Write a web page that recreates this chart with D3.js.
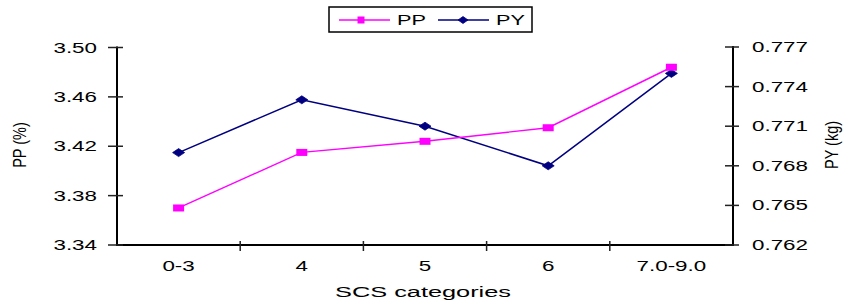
<!DOCTYPE html>
<html>
<head>
<meta charset="utf-8">
<script src="https://cdn.jsdelivr.net/npm/d3@7/dist/d3.min.js"></script>
<style>
  html, body { margin: 0; padding: 0; background: #fff; }
  svg { display: block; }
  text { font-family: "Liberation Sans", Arial, sans-serif; fill: #000; }
</style>
</head>
<body>
<svg id="chart" width="850" height="307"></svg>
<script>
// ---- data ----
const categories = ["0-3", "4", "5", "6", "7.0-9.0"];
const ppValues = [3.370, 3.415, 3.424, 3.435, 3.484];
const pyValues = [0.769, 0.773, 0.771, 0.768, 0.775];
const leftTicks = [3.34, 3.38, 3.42, 3.46, 3.50];
const rightTicks = [0.762, 0.765, 0.768, 0.771, 0.774, 0.777];
const seriesNames = ["PP", "PY"];
const xTitle = "SCS categories";
const leftTitle = "PP (%)";
const rightTitle = "PY (kg)";

// ---- layout ----
const svg = d3.select("#chart");
const L = 117, R = 733, T = 47.5, B = 245;
const SX = 1.6; // horizontal stretch of text in the reference
const pink = "#ff00ff", navy = "#000080";

const x = d3.scaleBand().domain(categories).range([L, R]);
const yL = d3.scaleLinear().domain([3.34, 3.50]).range([B, T]);
const yR = d3.scaleLinear().domain([0.762, 0.777]).range([B, 47]);

function stretchedText(g, px, py, str, anchor, size, sx) {
  return g.append("text")
    .attr("transform", `translate(${px},${py}) scale(${sx},1)`)
    .attr("text-anchor", anchor)
    .style("font-size", size + "px")
    .text(str);
}

// axes
const axisG = svg.append("g");
axisG.append("line").attr("x1", L).attr("x2", R).attr("y1", B).attr("y2", B)
  .attr("stroke", "#000").attr("stroke-width", 2);
axisG.append("line").attr("x1", L).attr("x2", L).attr("y1", T - 1).attr("y2", B + 1)
  .attr("stroke", "#000").attr("stroke-width", 2);
axisG.append("line").attr("x1", R).attr("x2", R).attr("y1", 46).attr("y2", B + 1)
  .attr("stroke", "#000").attr("stroke-width", 2);

// left ticks
leftTicks.forEach(v => {
  const yy = yL(v);
  axisG.append("line").attr("x1", L - 9).attr("x2", L + 6).attr("y1", yy).attr("y2", yy)
    .attr("stroke", "#222").attr("stroke-width", 1.5);
  stretchedText(axisG, 97, yy + 5, d3.format(".2f")(v), "end", 14, SX);
});
// right ticks
rightTicks.forEach(v => {
  const yy = yR(v);
  axisG.append("line").attr("x1", R - 8).attr("x2", R + 6).attr("y1", yy).attr("y2", yy)
    .attr("stroke", "#222").attr("stroke-width", 1.5);
  stretchedText(axisG, 752, yy + 5, d3.format(".3f")(v), "start", 14, SX);
});
// x ticks at band boundaries
categories.forEach((c, i) => {
  const xx = x(c);
  if (i > 0) {
    axisG.append("line").attr("x1", xx).attr("x2", xx).attr("y1", B - 4).attr("y2", B + 6)
      .attr("stroke", "#222").attr("stroke-width", 1.5);
  }
  stretchedText(axisG, xx + x.bandwidth() / 2, 271, c, "middle", 14, SX);
});

// axis titles
stretchedText(svg, 423, 297, xTitle, "middle", 15, 1.69);
svg.append("text").attr("transform", `translate(26,145) scale(1.25,1) rotate(-90)`)
  .attr("text-anchor", "middle").style("font-size", "14.5px").text(leftTitle);
svg.append("text").attr("transform", `translate(838,145) scale(1.25,1) rotate(-90)`)
  .attr("text-anchor", "middle").style("font-size", "14.5px").text(rightTitle);

// series
const cx = c => x(c) + x.bandwidth() / 2;
const linePP = d3.line().x((d, i) => cx(categories[i])).y(d => yL(d));
const linePY = d3.line().x((d, i) => cx(categories[i])).y(d => yR(d));

svg.append("path").datum(pyValues).attr("d", linePY)
  .attr("fill", "none").attr("stroke", navy).attr("stroke-width", 1.5);
svg.append("path").datum(ppValues).attr("d", linePP)
  .attr("fill", "none").attr("stroke", pink).attr("stroke-width", 1.4);

function diamond(g, px, py, w, h) {
  g.append("path")
    .attr("d", `M${px - w / 2},${py} L${px},${py - h / 2} L${px + w / 2},${py} L${px},${py + h / 2} Z`)
    .attr("fill", navy).attr("stroke", navy).attr("stroke-width", 0.8);
}
function square(g, px, py, w, h) {
  g.append("rect").attr("x", px - w / 2).attr("y", py - h / 2)
    .attr("width", w).attr("height", h).attr("fill", pink);
}

pyValues.forEach((v, i) => diamond(svg, cx(categories[i]), yR(v), 12, 8));
ppValues.forEach((v, i) => square(svg, cx(categories[i]), yL(v), 11, 7));

// legend
const lg = svg.append("g");
lg.append("rect").attr("x", 329).attr("y", 7).attr("width", 203).attr("height", 25)
  .attr("fill", "#fff").attr("stroke", "#000").attr("stroke-width", 1.5);
lg.append("line").attr("x1", 339).attr("x2", 390).attr("y1", 20).attr("y2", 20)
  .attr("stroke", pink).attr("stroke-width", 1.4);
square(lg, 361, 20, 7, 7);
stretchedText(lg, 397, 25, seriesNames[0], "start", 14, 1.55);
lg.append("line").attr("x1", 438).attr("x2", 489).attr("y1", 20).attr("y2", 20)
  .attr("stroke", navy).attr("stroke-width", 1.4);
diamond(lg, 463, 20, 10, 7);
stretchedText(lg, 496, 25, seriesNames[1], "start", 14, 1.55);
</script>
</body>
</html>
